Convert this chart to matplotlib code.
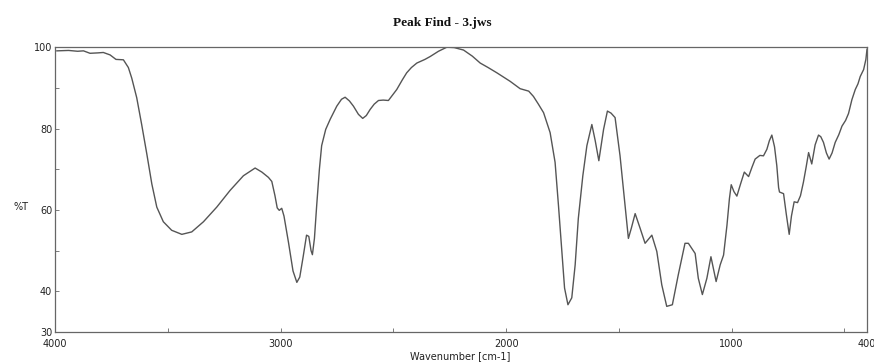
import matplotlib
matplotlib.use("Agg")
import matplotlib.pyplot as plt

wavenumber = [3992, 3940, 3900, 3874, 3845, 3810, 3786, 3756, 3730, 3697, 3675, 3660,
              3638, 3616, 3593, 3571, 3549, 3520, 3483, 3438, 3394, 3342, 3283, 3224,
              3165, 3113, 3083, 3054, 3039, 3025, 3015, 3006, 2995, 2985, 2965, 2945,
              2928, 2915, 2900, 2885, 2875, 2865, 2859, 2850, 2840, 2828, 2818, 2800,
              2780, 2751, 2730, 2714, 2695, 2677, 2655, 2636, 2620, 2603, 2585, 2566,
              2545, 2522, 2500, 2485, 2460, 2441, 2420, 2396, 2360, 2337, 2300, 2263,
              2230, 2189, 2150, 2115, 2080, 2041, 2010, 1982, 1938, 1900, 1879, 1857,
              1834, 1805, 1783, 1768, 1753, 1741, 1726, 1709, 1694, 1680, 1660, 1642,
              1620, 1605, 1589, 1568, 1551, 1535, 1517, 1495, 1473, 1458, 1445, 1428,
              1406, 1384, 1354, 1332, 1310, 1288, 1263, 1237, 1207, 1192, 1162, 1148,
              1130, 1110, 1092, 1069, 1051, 1036, 1021, 1010, 1002, 990, 977, 960,
              944, 925, 910, 896, 875, 859, 844, 833, 822, 810, 800, 792,
              788, 770, 758, 745, 735, 723, 708, 695, 682, 670, 659, 645,
              630, 615, 605, 593, 580, 568, 555, 541, 525, 511, 495, 482,
              467, 452, 440, 430, 415, 405, 400]
transmittance = [99.1, 99.2, 99.0, 99.1, 98.5, 98.6, 98.7, 98.1, 97.0, 96.9, 95.0, 92.4,
                 87.6, 81.0, 73.7, 66.4, 60.7, 57.1, 55.0, 54.0, 54.6, 57.1, 60.7, 64.8,
                 68.4, 70.3, 69.3, 68.0, 67.0, 63.5, 60.5, 59.9, 60.4, 58.5, 52.0, 45.0,
                 42.2, 43.5, 48.5, 53.8, 53.5, 50.0, 49.0, 53.0, 61.1, 70.0, 75.8, 79.8,
                 82.3, 85.5, 87.2, 87.7, 86.8, 85.5, 83.5, 82.5, 83.2, 84.7, 86.0, 86.9,
                 87.0, 86.9, 88.5, 89.6, 92.0, 93.7, 95.0, 96.1, 97.0, 97.7, 99.0, 100.0,
                 99.9, 99.3, 97.8, 96.1, 95.0, 93.7, 92.6, 91.6, 89.8, 89.2, 87.9, 86.0,
                 83.9, 79.0, 71.7, 61.1, 49.8, 40.8, 36.7, 38.4, 46.5, 57.9, 68.4, 75.8,
                 81.0, 77.0, 72.1, 79.8, 84.3, 83.8, 82.7, 73.3, 61.1, 53.0, 55.5, 59.1,
                 55.5, 51.8, 53.8, 49.8, 41.6, 36.3, 36.7, 44.0, 51.8, 51.8, 49.3, 43.2,
                 39.2, 43.2, 48.5, 42.4, 46.5, 48.9, 56.2, 62.8, 66.2, 64.5, 63.4, 66.5,
                 69.3, 68.2, 70.5, 72.5, 73.4, 73.3, 74.9, 77.0, 78.4, 75.5, 70.9, 65.5,
                 64.4, 64.0, 59.0, 54.0, 58.5, 62.0, 61.8, 63.5, 66.8, 70.5, 74.1, 71.3,
                 76.0, 78.4, 78.0, 76.6, 74.0, 72.5, 74.0, 76.6, 78.5, 80.6, 82.0, 83.7,
                 87.1, 89.6, 91.0, 92.8, 94.5, 97.0, 99.5]

x_ticks = [4000, 3000, 2000, 1000, 400]
x_minor = [3500, 2500, 1500, 500]
y_ticks = [30, 40, 60, 80, 100]
y_minor = [50, 70, 90]

fig = plt.figure(figsize=(8.74, 3.63), dpi=100)
ax = fig.add_axes([0.063, 0.0854, 0.929, 0.7846])
ax.plot(wavenumber, transmittance, color="#555555", lw=1.0)
ax.set_xlim(4000, 400)
ax.set_ylim(30, 100)
ax.set_xticks(x_ticks)
ax.set_xticks(x_minor, minor=True)
ax.set_yticks(y_ticks)
ax.set_yticks(y_minor, minor=True)
ax.set_xticklabels([str(v) for v in x_ticks])
ax.set_yticklabels([str(v) for v in y_ticks])
ax.tick_params(which="both", direction="in", length=3, width=0.6, colors="#666666",
               labelcolor="#222222", labelsize=7)
ax.tick_params(axis="x", pad=5)
ax.tick_params(axis="y", pad=2)
for s in ax.spines.values():
    s.set_color("#666666")
    s.set_linewidth(0.9)

fig.text(0.506, 0.938, "Peak Find - 3.jws", ha="center", va="center",
         fontsize=9.5, fontweight="bold", family="Liberation Serif", color="#111111")
fig.text(0.024, 0.43, "%T", ha="center", va="center", fontsize=7, color="#222222")
fig.text(0.527, 0.02, "Wavenumber [cm-1]", ha="center", va="center", fontsize=7,
         color="#222222")

fig.savefig("out.png", dpi=100)
